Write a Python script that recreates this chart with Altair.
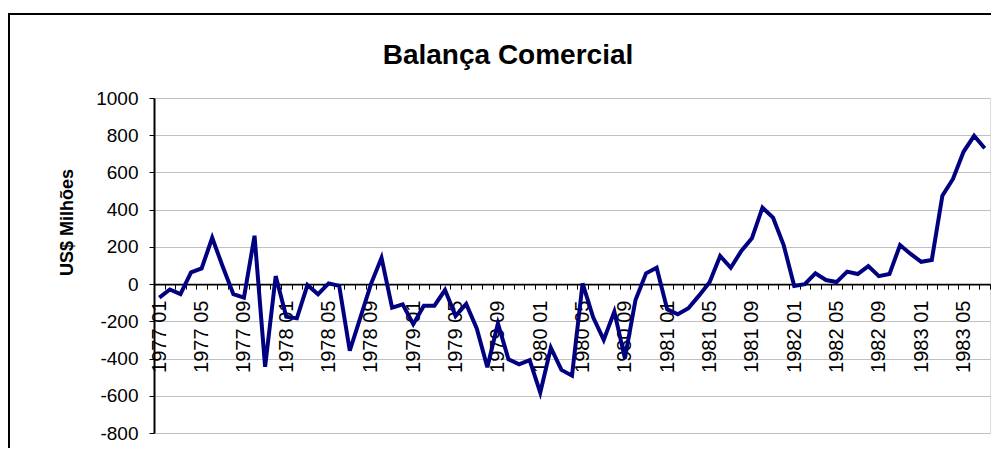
import altair as alt
import pandas as pd

# Monthly categories 1977 01 .. 1983 07
years = [1977, 1978, 1979, 1980, 1981, 1982, 1983]
months = [f"{y} {m:02d}" for y in years for m in range(1, 13)][:79]

# Trade balance, US$ millions
balance = [
    -73, -29, -54, 63, 84, 249, 93, -54, -73, 260, -444, 43,        # 1977
    -175, -184, -5, -54, 4, -9, -358, -180, 0, 141, -127, -109,      # 1978
    -215, -116, -116, -32, -171, -107, -238, -447, -211, -404, -431, -408,  # 1979
    -583, -342, -461, -492, 4, -178, -300, -148, -399, -85, 58, 88,  # 1980
    -136, -162, -130, -62, 10, 151, 88, 178, 246, 411, 357, 210,     # 1981
    -10, 0, 58, 22, 11, 67, 54, 97, 43, 54, 210, 162,                # 1982
    120, 130, 475, 565, 711, 797, 730,                               # 1983
]
y_ticks = [-800, -600, -400, -200, 0, 200, 400, 600, 800, 1000]
title_text = "Balança Comercial"

df = pd.DataFrame({"mes": months, "valor": balance})

FONT = "Liberation Sans"
W, H = 836, 335

line = alt.Chart(df).mark_line(color="#000080", strokeWidth=4, strokeJoin="miter").encode(
    x=alt.X(
        "mes:O",
        sort=months,
        bandPosition=0.5,
        scale=alt.Scale(type="band", paddingInner=0, paddingOuter=0),
        axis=alt.Axis(
            title=None,
            labelAngle=270,
            labelAlign="right",
            labelBaseline="middle",
            labelFontSize=20,
            labelFont=FONT,
            labelColor="black",
            labelPadding=11,
            labelExpr="test(/ (01|05|09)$/, datum.value) ? datum.value : ''",
            tickBand="extent",
            tickColor="black",
            tickSize=5,
            tickWidth=1,
            domainColor="black",
            domainWidth=1.6,
            offset=-(H - H * 1000 / 1800),
            grid=False,
            zindex=0,
        ),
    ),
    y=alt.Y(
        "valor:Q",
        scale=alt.Scale(domain=[-800, 1000], nice=False, zero=False),
        axis=alt.Axis(
            values=y_ticks,
            labelExpr="datum.value + ''",
            title="US$ Milhões",
            titleFont=FONT,
            titleFontSize=18,
            titleFontWeight="bold",
            titleColor="black",
            titleAngle=270,
            titleAlign="center",
            titleBaseline="middle",
            titleX=-87,
            titleY=124,
            labelFontSize=19,
            labelFont=FONT,
            labelColor="black",
            labelPadding=11,
            tickColor="black",
            tickSize=5,
            domainColor="black",
            domainWidth=2,
            gridColor="#c0c0c0",
            gridWidth=1,
            zindex=0,
        ),
    ),
)

one = pd.DataFrame({"a": [0]})

frame = alt.Chart(one).mark_rect(
    filled=False, stroke="black", strokeWidth=2, clip=False
).encode(
    x=alt.value(-145), x2=alt.value(1200), y=alt.value(-84), y2=alt.value(800)
)

title = alt.Chart(one).mark_text(
    text=title_text,
    font=FONT,
    fontSize=28,
    fontWeight="bold",
    color="black",
    align="center",
    baseline="alphabetic",
).encode(x=alt.value(354), y=alt.value(-34))

chart = alt.layer(frame, line, title).properties(
    width=W,
    height=H,
    autosize=alt.AutoSizeParams(type="none"),
    padding={"left": 146, "top": 90, "right": 1, "bottom": 15},
).configure_view(stroke="black", strokeWidth=2).configure(background="white")

chart.save("out.html", embed_options={"renderer": "svg", "actions": False})
